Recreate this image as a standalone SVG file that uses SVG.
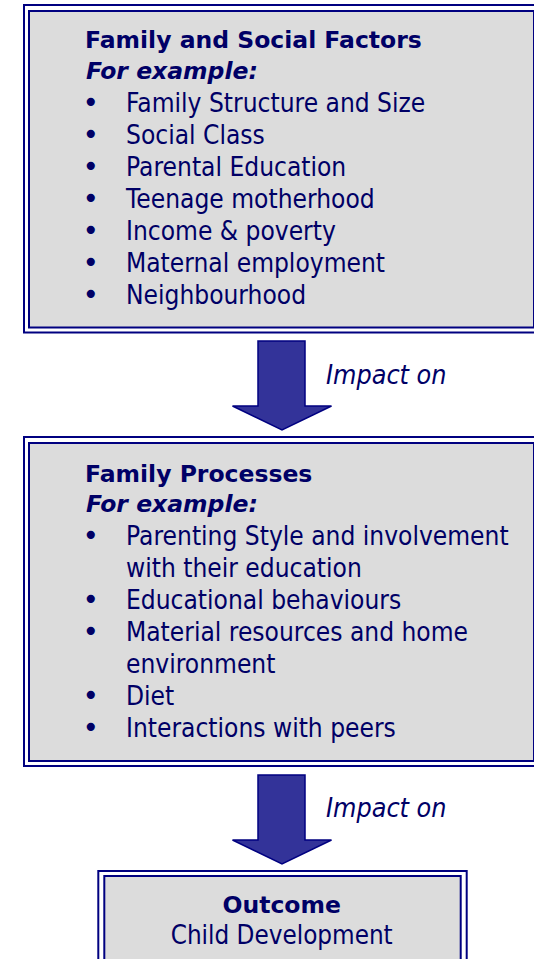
<svg xmlns="http://www.w3.org/2000/svg" width="534" height="959" viewBox="0 0 534 959">
<style>
  .frame { fill: none; stroke: #000080; stroke-width: 2; }
  .fill { fill: #dcdcdc; }
  .title { font-family: "DejaVu Sans", Verdana, sans-serif; font-weight: bold; font-size: 23.5px; fill: #000066; }
  .ex { font-family: "DejaVu Sans", Verdana, sans-serif; font-weight: bold; font-style: italic; font-size: 23.5px; fill: #000066; }
  .body { font-family: "DejaVu Sans", Verdana, sans-serif; font-size: 26.67px; fill: #000066; }
  .bullet { font-family: "DejaVu Sans", Verdana, sans-serif; font-size: 28px; fill: #000066; }
  .label { font-family: "DejaVu Sans", Verdana, sans-serif; font-style: italic; font-size: 26.67px; fill: #000066; }
  .arrow { fill: #333399; stroke: #000080; stroke-width: 1.5; stroke-linejoin: miter; }
</style>

<g id="factors">
  <rect class="fill" x="29" y="11" width="506" height="316.5"/>
  <rect class="frame" x="24" y="5" width="520" height="327.5"/>
  <rect class="frame" x="29" y="11" width="505" height="316.5"/>
  <g transform="translate(85,0)">
    <text class="title" x="0" y="48">Family and Social Factors</text>
    <text class="ex" x="1" y="79">For example:</text>
  </g>
  <g class="bullet">
    <text x="82.5" y="112">•</text>
    <text x="82.5" y="144">•</text>
    <text x="82.5" y="176">•</text>
    <text x="82.5" y="208">•</text>
    <text x="82.5" y="240">•</text>
    <text x="82.5" y="272">•</text>
    <text x="82.5" y="304">•</text>
  </g>
  <g transform="translate(126,0) scale(0.88,1)">
    <text class="body" x="0" y="112">Family Structure and Size</text>
    <text class="body" x="0" y="144">Social Class</text>
    <text class="body" x="0" y="176">Parental Education</text>
    <text class="body" x="0" y="208">Teenage motherhood</text>
    <text class="body" x="0" y="240">Income &amp; poverty</text>
    <text class="body" x="0" y="272">Maternal employment</text>
    <text class="body" x="0" y="304">Neighbourhood</text>
  </g>
</g>

<g id="processes">
  <rect class="fill" x="29" y="443" width="506" height="318"/>
  <rect class="frame" x="24" y="437" width="520" height="329"/>
  <rect class="frame" x="29" y="443" width="505" height="318"/>
  <g transform="translate(85,0)">
    <text class="title" x="0" y="481.5">Family Processes</text>
    <text class="ex" x="1" y="512">For example:</text>
  </g>
  <g class="bullet">
    <text x="82.5" y="545">•</text>
    <text x="82.5" y="609">•</text>
    <text x="82.5" y="641">•</text>
    <text x="82.5" y="705">•</text>
    <text x="82.5" y="737">•</text>
  </g>
  <g transform="translate(126,0) scale(0.88,1)">
    <text class="body" x="0" y="545">Parenting Style and involvement</text>
    <text class="body" x="0" y="577">with their education</text>
    <text class="body" x="0" y="609">Educational behaviours</text>
    <text class="body" x="0" y="641">Material resources and home</text>
    <text class="body" x="0" y="673">environment</text>
    <text class="body" x="0" y="705">Diet</text>
    <text class="body" x="0" y="737">Interactions with peers</text>
  </g>
</g>

<g id="outcome">
  <rect class="fill" x="104.3" y="876" width="356.4" height="90"/>
  <rect class="frame" x="98.3" y="871" width="368.4" height="100"/>
  <rect class="frame" x="104.3" y="876" width="356.4" height="95"/>
  <text class="title" x="281.7" y="913" text-anchor="middle">Outcome</text>
  <g transform="translate(281.7,0) scale(0.87,1)">
    <text class="body" x="0" y="944" text-anchor="middle">Child Development</text>
  </g>
</g>

<g id="connectors">
  <g id="arrow1">
    <polygon class="arrow" points="258,341 305,341 305,406 331.5,406 282,430 232.5,406 258,406"/>
    <g transform="translate(326,0) scale(0.9,1)">
      <text class="label" x="0" y="384">Impact on</text>
    </g>
  </g>
  <g id="arrow2">
    <polygon class="arrow" points="258,775 305,775 305,840 331.5,840 282,864 232.5,840 258,840"/>
    <g transform="translate(326,0) scale(0.9,1)">
      <text class="label" x="0" y="817">Impact on</text>
    </g>
  </g>
</g>
</svg>
